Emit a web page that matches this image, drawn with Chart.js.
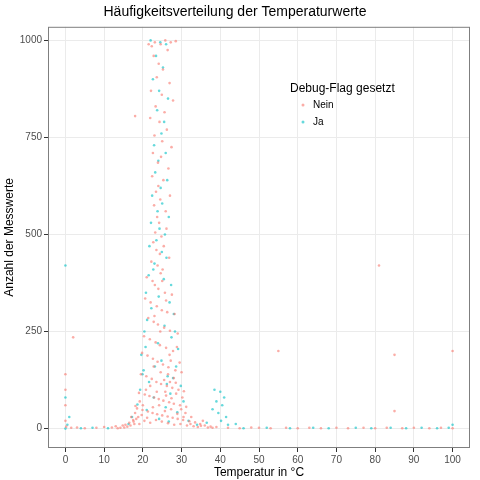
<!DOCTYPE html>
<html>
<head>
<meta charset="utf-8">
<script src="https://cdn.jsdelivr.net/npm/chart.js@4"></script>
<style>
  html, body { margin: 0; padding: 0; background: #fff; }
  #wrap { width: 480px; height: 480px; }
</style>
</head>
<body>
<div id="wrap"><canvas id="c" width="480" height="480"></canvas></div>
<script>
// Points as [temperature, count]
const neinPoints = [
  [21.5,990],[22.3,985],[23.1,995],[24.6,990],[25.8,1000],[27.2,995],[28.5,998],[26.4,975],[22.8,960],[24.1,940],
  [25.2,925],[23.6,905],[26.9,890],[22.1,870],[24.9,860],[27.8,845],[23.3,830],[25.6,815],[21.9,800],[24.3,790],
  [26.2,770],[23.0,755],[25.0,740],[27.4,725],[22.6,710],[24.7,700],[23.9,685],[26.6,670],[22.4,650],[25.3,640],
  [24.0,625],[23.4,610],[27.0,600],[24.5,590],[22.9,575],[25.9,560],[23.7,545],[24.2,530],[26.1,515],[23.2,505],
  [24.8,495],[22.7,480],[25.4,470],[23.5,460],[24.4,450],[26.8,440],[22.2,430],[23.8,420],[25.1,410],[24.6,400],
  [21.0,390],[22.5,380],[23.1,370],[24.0,360],[25.7,350],[27.5,345],[20.6,335],[22.0,325],[23.6,315],[24.9,305],
  [26.3,300],[28.2,295],[21.4,285],[22.8,275],[23.9,268],[25.5,260],[27.0,252],[29.0,245],[20.3,238],[21.8,230],
  [23.3,222],[24.4,215],[26.0,208],[27.8,200],[19.8,195],[21.2,188],[22.6,180],[23.8,172],[25.2,165],[26.6,158],
  [28.4,150],[30.0,145],[19.5,140],[20.9,135],[22.3,128],[23.5,120],[24.7,115],[26.2,110],[27.6,105],[29.2,100],
  [30.6,96],[19.0,92],[20.5,88],[21.7,84],[22.9,80],[24.1,76],[25.3,72],[26.8,68],[28.0,64],[29.6,60],
  [31.2,56],[18.5,52],[19.9,48],[21.3,44],[22.5,40],[23.7,37],[25.0,34],[26.4,31],[27.7,28],[29.0,25],
  [30.4,22],[32.0,19],[33.5,16],[17.5,22],[16.5,15],[15.5,10],[14.8,8],[34.8,12],[36.0,8],[37.5,5],
  [39.0,4],[17.0,30],[18.0,40],[27.0,120],[28.5,118],[25.8,95],[26.5,140],[27.2,175],[28.0,130],[24.5,250],
  [23.0,290],[26.0,330],[25.0,380],[28.8,210],[29.5,170],[30.2,80],[31.0,40],[32.5,30],[20.0,60],[19.2,70],
  [18.8,30],[16.0,5],[17.8,12],[35.5,20],[38.0,2],
  [15.2,3],[16.8,8],[17.6,18],[18.3,25],[19.1,12],[19.7,35],[20.4,20],[21.1,28],[21.9,15],[22.6,55],
  [23.4,22],[24.2,60],[24.9,18],[25.7,45],[26.5,14],[27.3,50],[28.1,10],[28.9,38],[29.7,12],[30.5,30],
  [31.4,8],[32.3,12],[33.1,6],[34.2,4],[35.0,7],[36.8,3],[14.2,2],[13.5,1],[20.8,100],[23.6,95],
  [26.0,85],[27.4,78],[28.6,90],[21.9,110],[25.5,125],[29.9,50],[18.1,58],[24.6,145],[22.8,160],[26.9,190],
  [0.2,5],[1.5,2],[3,3],[5,1],[8,2],[10,4],[12,3],[13,6],[42,2],[45,1],[48,3],[50,2],[53,1],[57,2],[60,1],
  [63,2],[66,1],[70,2],[73,1],[77,2],[80,1],[83,2],[87,1],[90,2],[94,1],[97,2],[100,1],
  [85,190],[55,200],[100,200],[81,420],[0,140],[0,100],[0,60],[0,20],[2,235],[18,805],[85,45]
];
const jaPoints = [
  [22.0,1000],[24.5,995],[26.0,990],[23.4,960],[25.2,930],[22.6,900],[24.2,870],[26.5,850],[23.7,820],[25.5,790],
  [24.8,760],[22.9,730],[25.9,710],[24.0,690],[23.2,660],[26.3,640],[24.6,620],[22.4,600],[25.0,580],[23.8,560],
  [26.7,545],[22.1,530],[24.3,515],[25.7,500],[23.5,485],[21.7,470],[24.9,455],[26.1,440],[23.0,425],[22.7,410],
  [21.5,395],[25.4,385],[27.3,370],[20.8,350],[24.1,340],[26.9,325],[22.2,310],[28.0,295],[21.1,280],[25.6,265],
  [20.4,250],[27.4,235],[23.9,220],[29.1,205],[19.6,190],[24.8,175],[28.6,160],[20.2,150],[26.4,135],[21.6,120],
  [29.8,110],[19.3,100],[27.1,90],[22.8,80],[30.5,70],[18.6,62],[25.9,55],[21.0,48],[28.9,42],[17.2,30],
  [24.2,25],[31.8,20],[16.3,12],[26.7,18],[34.0,10],[38.5,100],[40,95],[41,80],[40.5,60],[39.5,40],
  [41.5,30],[40.2,20],[42,10],[39,70],[38,50],[44,12],[36.5,15],
  [19.9,140],[27.8,130],[23.1,160],[26.2,115],[20.7,210],[28.3,250],
  [0,0],[0.5,10],[1,30],[4,1],[7,2],[11,1],[46,1],[52,2],[58,1],[64,2],[68,1],[75,2],[79,1],[84,2],
  [88,1],[92,2],[96,1],[99,2],[100,10],[0,420],[0,80]
];
const seriesNames = ["Nein", "Ja"];
const seriesColors = ["rgba(248,118,109,0.6)", "rgba(0,191,196,0.6)"];
const xTicks = [0, 10, 20, 30, 40, 50, 60, 70, 80, 90, 100];
const yTicks = [0, 250, 500, 750, 1000];

const toXY = arr => arr.map(p => ({ x: p[0], y: p[1] }));

const legendPlugin = {
  id: "insideLegend",
  afterDraw(chart) {
    const ctx = chart.ctx;
    ctx.save();
    ctx.fillStyle = "#000";
    ctx.font = "12px 'Liberation Sans', Arial, sans-serif";
    ctx.textBaseline = "middle";
    ctx.fillText("Debug-Flag gesetzt", 290, 89);
    ctx.font = "10px 'Liberation Sans', Arial, sans-serif";
    seriesNames.forEach((n, i) => {
      const y = 105 + i * 17;
      ctx.fillStyle = seriesColors[i];
      ctx.beginPath();
      ctx.arc(303, y, 1.5, 0, Math.PI * 2);
      ctx.fill();
      ctx.fillStyle = "#000";
      ctx.fillText(n, 313, y);
    });
    ctx.restore();
  }
};

const borderPlugin = {
  id: "panelBorder",
  afterDraw(chart) {
    const a = chart.chartArea, ctx = chart.ctx;
    ctx.save();
    ctx.strokeStyle = "#7f7f7f";
    ctx.lineWidth = 1;
    ctx.strokeRect(a.left + 0.5, a.top + 0.5, a.right - a.left - 1, a.bottom - a.top - 1);
    ctx.restore();
  }
};

const tickFont = { family: "'Liberation Sans', Arial, sans-serif", size: 10 };
const labelFont = { family: "'Liberation Sans', Arial, sans-serif", size: 12 };

new Chart(document.getElementById("c"), {
  type: "scatter",
  data: {
    datasets: [
      { label: seriesNames[0], data: toXY(neinPoints), backgroundColor: seriesColors[0], borderWidth: 0, pointRadius: 1.3 },
      { label: seriesNames[1], data: toXY(jaPoints), backgroundColor: seriesColors[1], borderWidth: 0, pointRadius: 1.3 }
    ]
  },
  options: {
    responsive: false,
    animation: false,
    layout: { padding: { left: 0, right: 10, top: 0, bottom: 0 } },
    plugins: {
      legend: { display: false },
      tooltip: { enabled: false },
      title: {
        display: true,
        text: "Häufigkeitsverteilung der Temperaturwerte",
        color: "#000",
        font: { family: "'Liberation Sans', Arial, sans-serif", size: 14, weight: "normal" },
        padding: { top: 4, bottom: 6 }
      }
    },
    scales: {
      x: {
        type: "linear",
        min: -4.5, max: 104.5,
        afterBuildTicks: ax => { ax.ticks = xTicks.map(v => ({ value: v })); },
        afterFit: ax => { ax.height = 32; },
        ticks: { color: "#4d4d4d", font: tickFont, maxRotation: 0, padding: 2, callback: v => String(v) },
        grid: { color: "#ebebeb", tickColor: "#333", tickLength: 4 },
        border: { display: false },
        title: { display: true, text: "Temperatur in °C", color: "#000", font: labelFont, padding: 0 }
      },
      y: {
        type: "linear",
        min: -50, max: 1035,
        afterBuildTicks: ax => { ax.ticks = yTicks.map(v => ({ value: v })); },
        afterFit: ax => { ax.width = 48; },
        ticks: { color: "#4d4d4d", font: tickFont, padding: 2, callback: v => String(v) },
        grid: { color: "#ebebeb", tickColor: "#333", tickLength: 4 },
        border: { display: false },
        title: { display: true, text: "Anzahl der Messwerte", color: "#000", font: labelFont, padding: 2 }
      }
    }
  },
  plugins: [legendPlugin, borderPlugin]
});
</script>
</body>
</html>
